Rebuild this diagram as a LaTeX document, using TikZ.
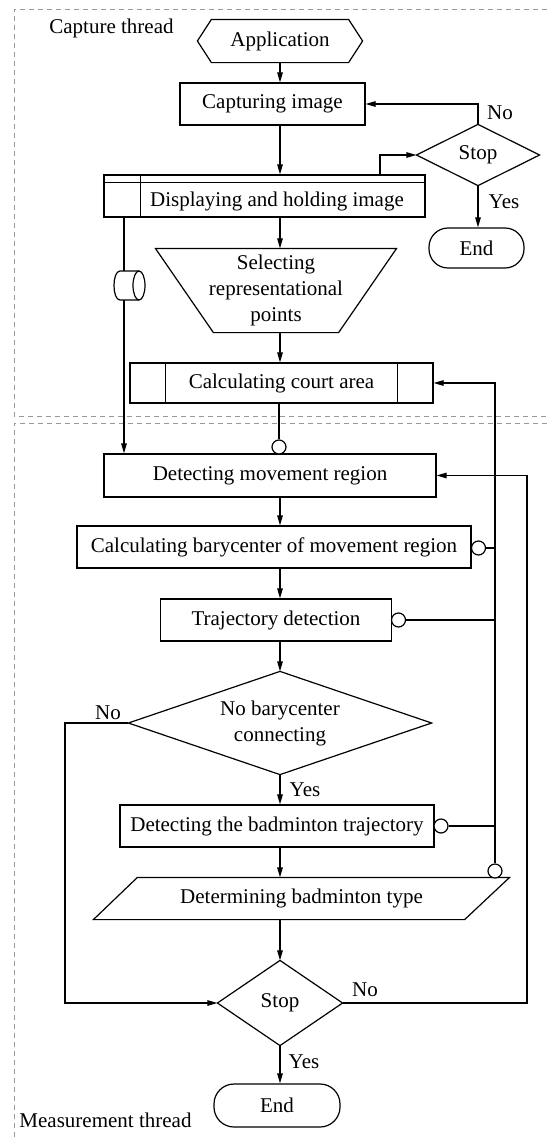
\documentclass[tikz,border=0pt]{standalone}
\usepackage{fontspec}
\setmainfont{Liberation Serif}
\usetikzlibrary{arrows.meta,calc}
\begin{document}
\begin{tikzpicture}[x=1pt,y=-1pt,line width=1.2pt,
  every node/.style={font=\fontsize{21}{26}\selectfont,inner sep=0pt},
  box/.style={draw,rectangle,minimum height=42pt},
  shp/.style={rectangle,minimum height=42pt},
  arr/.style={-{Triangle[length=10pt,width=5.5pt]}},
  port/.style={draw,circle,minimum size=14pt,inner sep=0pt,fill=white},
  frame/.style={draw=gray!80,line width=1pt,dash pattern=on 5pt off 4pt},
]
\useasboundingbox (0,0) rectangle (547,1141);
% thread frames
\draw[frame] (547,9) -- (14,9) -- (14,416) -- (547,416);
\draw[frame] (547,423) -- (14,423) -- (14,1141);
\node (capt) at (111.5,28) {Capture thread};
\node (meas) at (105.5,1120) {Measurement thread};

% helper x coordinates
\coordinate (mx) at (280,0);
\coordinate (lx) at (124,0);
\coordinate (dx) at (380,0);
\coordinate (lx2) at (65,0);
\coordinate (rx2) at (527,0);

% capture thread
\node[shp,minimum width=164pt] (app) at (280,41) {Application};
\draw (app.west) -- ($(app.north west)+(14,0)$) -- ($(app.north east)+(-14,0)$) -- (app.east)
  -- ($(app.south east)+(-14,0)$) -- ($(app.south west)+(14,0)$) -- cycle;
\node[box,minimum width=185pt] (cap) at (272.5,104) {Capturing image};
\node[shp,minimum width=122pt,minimum height=60pt] (stop1) at (478,155) {Stop};
\draw (stop1.north) -- (stop1.east) -- (stop1.south) -- (stop1.west) -- cycle;
\node[draw,rounded corners=19pt,minimum width=95pt,minimum height=40pt] (end1) at (476.5,248) {End};
\node[draw,minimum width=321pt,minimum height=42pt] (disp) at (264.5,196) {};
\draw ($(disp.north west)+(0,8)$) -- ($(disp.north east)+(0,8)$);
\draw ($(disp.north west)+(37,0)$) -- ($(disp.south west)+(37,0)$);
\node (disptxt) at (277,201) {Displaying and holding image};
\node[shp,minimum width=240pt,minimum height=83pt,align=center] (trap) at (276,290.5)
  {Selecting\\representational\\points};
\draw (trap.north west) -- (trap.north east) -- ($(trap.south east)+(-58,0)$)
  -- ($(trap.south west)+(58,0)$) -- cycle;
\node[draw,minimum width=303pt,minimum height=40pt] (court) at (281.5,383) {Calculating court area};
\draw ($(court.north west)+(36,0)$) -- ($(court.south west)+(36,0)$);
\draw ($(court.north east)+(-36,0)$) -- ($(court.south east)+(-36,0)$);

% measurement thread
\node[box,minimum width=332pt,minimum height=43pt] (det) at (270,475.5) {Detecting movement region};
\node[box,minimum width=394pt] (bary) at (274,547) {Calculating barycenter of movement region};
\node[box,minimum width=231pt] (traj) at (276,620) {Trajectory detection};
\node[shp,minimum width=302pt,minimum height=102pt,align=center] (dec) at (280,723) {No barycenter\\connecting};
\draw (dec.north) -- (dec.east) -- (dec.south) -- (dec.west) -- cycle;
\node[box,minimum width=314pt] (badtraj) at (277,826) {Detecting the badminton trajectory};
\node[shp,minimum width=415pt,minimum height=41pt] (type) at (301.5,898.5) {Determining badminton type};
\draw ($(type.north west)+(44,0)$) -- (type.north east) -- ($(type.south east)+(-45,0)$)
  -- (type.south west) -- cycle;
\node[shp,minimum width=124pt,minimum height=84pt] (stop2) at (280,1003) {Stop};
\draw (stop2.north) -- (stop2.east) -- (stop2.south) -- (stop2.west) -- cycle;
\node[draw,rounded corners=20pt,minimum width=126pt,minimum height=43pt] (end2) at (277,1105.5) {End};

% main flow
\draw[arr] (app.south -| mx) -- (cap.north -| mx);
\draw[arr] (cap.south -| mx) -- (disp.north -| mx);
\draw[arr] (disp.north -| dx) |- (stop1.west);
\draw[arr] (stop1.north) |- (cap.east);
\node (no1) at (500,113) {No};
\draw[arr] (stop1.south) -- (end1.north -| stop1);
\node (yes1) at (504,202) {Yes};
\draw[arr] (disp.south -| mx) -- (trap.north -| mx);
\draw[arr] (trap.south -| mx) -- (court.north -| mx);

% data line with cylinder
\draw[arr] (disp.south -| lx) -- (det.north -| lx);
\node[minimum width=32pt,minimum height=29pt] (cyl) at (129,285.5) {};
\draw[fill=white] (139,271) -- (120,271) .. controls (112,271) and (112,300) .. (120,300) -- (139,300);
\draw[fill=white] (139,285.5) ellipse [x radius=6, y radius=14.5];

% court to detection (port)
\node[port] (c1) at (279,447) {};
\draw (court.south -| c1) -- (c1.north);

\draw[arr] (det.south -| mx) -- (bary.north -| mx);
\draw[arr] (bary.south -| mx) -- (traj.north -| mx);
\draw[arr] (traj.south -| mx) -- (dec.north);
\draw[arr] (dec.south) -- (badtraj.north -| dec);
\node (yes2) at (305,790) {Yes};
\draw[arr] (badtraj.south -| mx) -- (type.north -| mx);
\draw[arr] (type.south -| mx) -- (stop2.north);
\draw[arr] (stop2.south) -- (end2.north -| stop2);
\node (yes3) at (304,1062) {Yes};

% No branch of decision
\draw[arr] (dec.west) -- (dec.west -| lx2) |- (stop2.west);
\node (no2) at (108,713) {No};

% No branch of stop2
\draw[arr] (stop2.east) -- (stop2.east -| rx2) -- (det.east -| rx2) -- (det.east);
\node (no3) at (365,990) {No};

% ports feeding court area
\node[port] (c2) at (478.5,548) {};
\node[port] (c3) at (398.5,620) {};
\node[port] (c4) at (441,826) {};
\node[port] (c5) at (495,871) {};
\draw[arr] (c5.north) -- (court.east -| c5) -- (court.east);
\draw (c2.east) -- (c2.east -| c5);
\draw (c3.east) -- (c3.east -| c5);
\draw (c4.east) -- (c4.east -| c5);
\end{tikzpicture}
\end{document}
